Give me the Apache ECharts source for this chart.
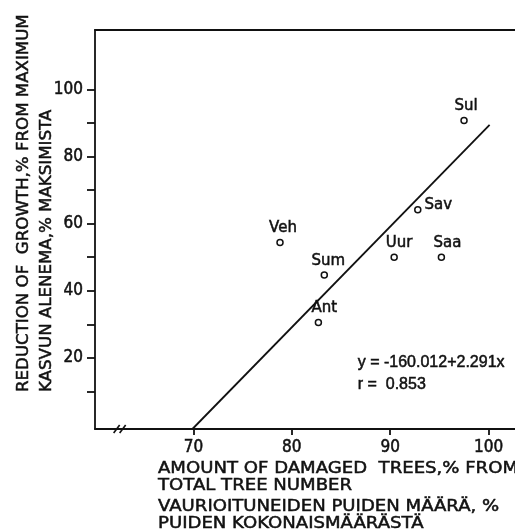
<!DOCTYPE html>
<html>
<head>
<meta charset="utf-8">
<script src="https://cdn.jsdelivr.net/npm/echarts@6/dist/echarts.min.js"></script>
<style>
  html, body { margin: 0; padding: 0; background: #fff; }
  #chart { width: 515px; height: 532px; }
</style>
</head>
<body>
<div id="chart"></div>
<script>
// Sites (plot abbreviations) and their measured values
const sites = ['Sul', 'Sav', 'Veh', 'Uur', 'Saa', 'Sum', 'Ant'];
const damagedTrees = [97.5, 92.8, 78.8, 90.4, 95.2, 83.3, 82.7];      // % of total tree number
const growthReduction = [90.7, 64.1, 54.4, 50.0, 50.0, 44.7, 30.5];   // % from maximum

// Fitted line end points
const fitLineX = [69.9, 100.1];
const fitLineY = [-1.2, 89.4];

// Axis ticks and labels
const xTickValues = [70, 80, 90, 100];
const yTickValues = [10, 20, 30, 40, 50, 60, 70, 80, 90, 100];
const yLabelValues = [20, 40, 60, 80, 100];

// Texts
const equationLines = ['y = -160.012+2.291x', 'r =  0.853'];
const yTitleLines = ['REDUCTION OF  GROWTH,% FROM MAXIMUM', 'KASVUN ALENEMA,% MAKSIMISTA'];
const xTitleLines = [
  'AMOUNT OF DAMAGED  TREES,% FROM',
  'TOTAL TREE NUMBER',
  'VAURIOITUNEIDEN PUIDEN MÄÄRÄ, %',
  'PUIDEN KOKONAISMÄÄRÄSTÄ'
];

const INK = '#111111';
const FONT = 'DejaVu Sans';
const TICK_FONT = '"DejaVu Sans Condensed", "DejaVu Sans"';

// Label placement per site
const labelPlacement = {
  Sul: { position: 'top', offset: [2, 0] },
  Sav: { position: 'right', offset: [0, -5] },
  Veh: { position: 'top', offset: [3, 0] },
  Uur: { position: 'top', offset: [5, 0] },
  Saa: { position: 'top', offset: [6, 0] },
  Sum: { position: 'top', offset: [4, 0] },
  Ant: { position: 'top', offset: [6, 0] }
};

const points = sites.map((name, i) => ({
  name: name,
  value: [damagedTrees[i], growthReduction[i]],
  label: Object.assign({ show: true, distance: 3 }, labelPlacement[name])
}));

const chart = echarts.init(document.getElementById('chart'), null, { renderer: 'canvas' });

const tickLabelStyle = {
  margin: 12, color: INK, fontFamily: TICK_FONT, fontSize: 17,
  textBorderColor: INK, textBorderWidth: 0.5
};

const option = {
  backgroundColor: '#ffffff',
  animation: false,
  grid: { left: 95, right: 0, top: 30, bottom: 103, containLabel: false },
  xAxis: [
    {
      type: 'value',
      min: 60,
      max: 102.68,
      position: 'bottom',
      axisLine: { show: true, onZero: false, lineStyle: { color: INK, width: 1.8 } },
      axisTick: { show: true, customValues: xTickValues, length: 6, lineStyle: { color: INK, width: 1.8 } },
      axisLabel: Object.assign({ customValues: xTickValues }, tickLabelStyle, { margin: 10 }),
      splitLine: { show: false }
    },
    {
      type: 'value',
      min: 60,
      max: 102.68,
      position: 'top',
      axisLine: { show: true, onZero: false, lineStyle: { color: INK, width: 1.8 } },
      axisTick: { show: false },
      axisLabel: { show: false },
      splitLine: { show: false }
    }
  ],
  yAxis: {
    type: 'value',
    min: -1.2,
    max: 117.7,
    axisLine: { show: true, onZero: false, lineStyle: { color: INK, width: 1.8 } },
    axisTick: { show: true, customValues: yTickValues, length: 8, lineStyle: { color: INK, width: 1.8 } },
    axisLabel: Object.assign({ customValues: yLabelValues }, tickLabelStyle),
    splitLine: { show: false }
  },
  series: [
    {
      type: 'line',
      data: fitLineX.map((x, i) => [x, fitLineY[i]]),
      symbol: 'none',
      lineStyle: { color: INK, width: 1.8 },
      silent: true,
      z: 2
    },
    {
      type: 'scatter',
      data: points,
      symbol: 'circle',
      symbolSize: 6,
      itemStyle: { color: '#ffffff', borderColor: INK, borderWidth: 1.5, opacity: 1 },
      label: {
        show: true,
        formatter: '{b}',
        color: INK,
        fontFamily: FONT,
        fontSize: 15,
        textBorderColor: INK,
        textBorderWidth: 0.5
      },
      z: 3
    }
  ],
  graphic: []
};

chart.setOption(option);

// Axis titles, equation and the axis break mark
const titleFont = '16px "' + FONT + '"';
const graphics = [];
yTitleLines.forEach((t, i) => {
  graphics.push({
    type: 'text',
    x: 24 + i * 23,
    y: 392,
    rotation: Math.PI / 2,
    scaleX: 1.04,
    style: { text: t, fill: INK, stroke: INK, lineWidth: 0.5, font: titleFont, align: 'left', verticalAlign: 'middle' }
  });
});
const xTitleY = [469, 486, 507, 524];
xTitleLines.forEach((t, i) => {
  graphics.push({
    type: 'text',
    x: 158,
    y: xTitleY[i],
    scaleX: 1.13,
    style: { text: t, fill: INK, stroke: INK, lineWidth: 0.5, font: titleFont, align: 'left', verticalAlign: 'middle' }
  });
});
const eqPos = chart.convertToPixel({ xAxisIndex: 0, yAxisIndex: 0 }, [86.7, 18.7]);
equationLines.forEach((t, i) => {
  graphics.push({
    type: 'text',
    x: eqPos[0],
    y: eqPos[1] + i * 22,
    style: { text: t, fill: INK, stroke: INK, lineWidth: 0.5, font: '16px "Liberation Sans"', align: 'left', verticalAlign: 'middle' }
  });
});
const breakBase = chart.convertToPixel({ xAxisIndex: 0, yAxisIndex: 0 }, [62.2, -1.2]);
[0, 6].forEach(dx => {
  graphics.push({
    type: 'line',
    shape: { x1: breakBase[0] + dx - 3, y1: breakBase[1] + 4, x2: breakBase[0] + dx + 3, y2: breakBase[1] - 4 },
    style: { stroke: INK, lineWidth: 1.6 }
  });
});
chart.setOption({ graphic: graphics });
</script>
</body>
</html>
